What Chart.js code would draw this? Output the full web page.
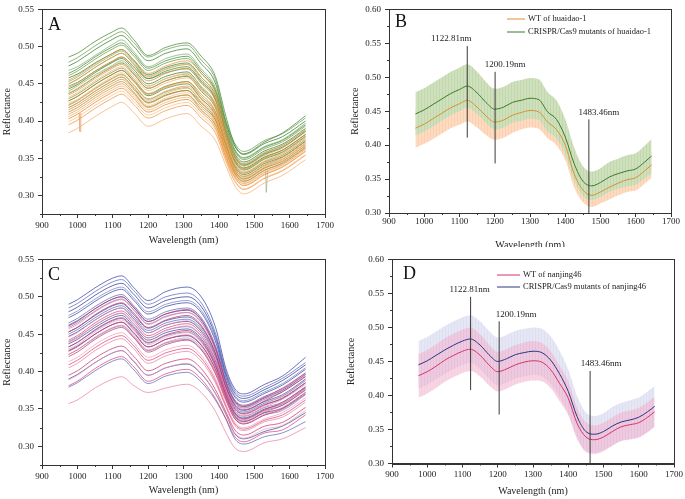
<!DOCTYPE html>
<html lang="en">
<head>
<meta charset="UTF-8">
<title>Reflectance spectra</title>
<script src="https://cdn.jsdelivr.net/npm/chart.js"></script>
<style>
  body { margin: 0; background: #fff; width: 685px; height: 499px; position: relative; overflow: hidden; }
  canvas { position: absolute; display: block; }
</style>
</head>
<body>

<canvas id="chartA" width="340" height="250" style="left:0;top:0"></canvas>
<canvas id="chartB" width="345" height="247" style="left:340px;top:0"></canvas>
<canvas id="chartC" width="340" height="249" style="left:0;top:250px"></canvas>
<canvas id="chartD" width="345" height="249" style="left:340px;top:250px"></canvas>

<script>
// ---- data ----

// single spectra (panels A and C), wavelengths in nm
const wlCurves = [975, 1000, 1050, 1100, 1125, 1160, 1200, 1250, 1310, 1350, 1390, 1420, 1445, 1470, 1530, 1580, 1645];

const mutHuaidaoCurves = [
    [0.486, 0.491, 0.507, 0.520, 0.525, 0.509, 0.488, 0.499, 0.505, 0.487, 0.460, 0.406, 0.368, 0.356, 0.372, 0.384, 0.407],
    [0.479, 0.485, 0.501, 0.515, 0.520, 0.505, 0.486, 0.496, 0.502, 0.482, 0.456, 0.400, 0.370, 0.359, 0.374, 0.383, 0.404],
    [0.474, 0.480, 0.496, 0.510, 0.515, 0.500, 0.481, 0.491, 0.497, 0.477, 0.451, 0.398, 0.366, 0.355, 0.370, 0.379, 0.400],
    [0.468, 0.473, 0.488, 0.503, 0.509, 0.493, 0.473, 0.484, 0.490, 0.470, 0.445, 0.396, 0.362, 0.351, 0.366, 0.375, 0.397],
    [0.464, 0.470, 0.486, 0.500, 0.505, 0.490, 0.471, 0.481, 0.487, 0.467, 0.442, 0.393, 0.361, 0.350, 0.365, 0.374, 0.395],
    [0.461, 0.467, 0.483, 0.497, 0.502, 0.487, 0.468, 0.478, 0.484, 0.464, 0.440, 0.389, 0.359, 0.348, 0.363, 0.372, 0.393],
    [0.458, 0.463, 0.478, 0.491, 0.496, 0.481, 0.462, 0.472, 0.478, 0.459, 0.435, 0.387, 0.356, 0.345, 0.360, 0.369, 0.390],
    [0.453, 0.459, 0.475, 0.489, 0.494, 0.479, 0.460, 0.470, 0.476, 0.456, 0.432, 0.384, 0.354, 0.343, 0.358, 0.367, 0.388],
    [0.450, 0.456, 0.472, 0.486, 0.491, 0.476, 0.457, 0.467, 0.473, 0.453, 0.430, 0.382, 0.352, 0.341, 0.356, 0.365, 0.386],
    [0.447, 0.452, 0.467, 0.480, 0.486, 0.473, 0.457, 0.465, 0.470, 0.451, 0.428, 0.381, 0.351, 0.340, 0.355, 0.364, 0.386],
    [0.443, 0.449, 0.465, 0.479, 0.484, 0.469, 0.450, 0.460, 0.466, 0.446, 0.423, 0.378, 0.348, 0.337, 0.352, 0.361, 0.382],
    [0.440, 0.447, 0.462, 0.475, 0.481, 0.466, 0.447, 0.457, 0.463, 0.443, 0.421, 0.376, 0.346, 0.335, 0.350, 0.359, 0.380],
    [0.437, 0.443, 0.459, 0.473, 0.478, 0.463, 0.444, 0.454, 0.460, 0.440, 0.418, 0.375, 0.345, 0.334, 0.349, 0.358, 0.379],
    [0.430, 0.436, 0.452, 0.466, 0.471, 0.456, 0.437, 0.447, 0.453, 0.433, 0.412, 0.371, 0.341, 0.330, 0.345, 0.354, 0.375],
    [0.427, 0.433, 0.449, 0.463, 0.468, 0.453, 0.434, 0.444, 0.450, 0.430, 0.409, 0.369, 0.339, 0.328, 0.343, 0.352, 0.373],
    [0.422, 0.428, 0.444, 0.458, 0.463, 0.448, 0.429, 0.439, 0.445, 0.425, 0.404, 0.366, 0.336, 0.325, 0.340, 0.349, 0.370],
    [0.418, 0.424, 0.440, 0.454, 0.459, 0.444, 0.425, 0.435, 0.441, 0.421, 0.401, 0.363, 0.333, 0.322, 0.337, 0.346, 0.367],
    [0.412, 0.418, 0.434, 0.448, 0.453, 0.438, 0.419, 0.429, 0.435, 0.415, 0.395, 0.360, 0.330, 0.319, 0.334, 0.343, 0.364]
];

const wtHuaidaoCurves = [
    [0.455, 0.461, 0.477, 0.491, 0.496, 0.482, 0.464, 0.474, 0.481, 0.464, 0.438, 0.387, 0.353, 0.342, 0.357, 0.367, 0.388],
    [0.450, 0.456, 0.472, 0.486, 0.491, 0.477, 0.459, 0.469, 0.476, 0.459, 0.433, 0.379, 0.350, 0.339, 0.354, 0.364, 0.385],
    [0.445, 0.451, 0.467, 0.481, 0.486, 0.472, 0.454, 0.464, 0.471, 0.454, 0.429, 0.380, 0.347, 0.336, 0.351, 0.361, 0.382],
    [0.438, 0.444, 0.460, 0.474, 0.479, 0.465, 0.447, 0.457, 0.464, 0.447, 0.423, 0.375, 0.343, 0.332, 0.347, 0.357, 0.378],
    [0.435, 0.441, 0.457, 0.471, 0.476, 0.462, 0.444, 0.454, 0.461, 0.444, 0.420, 0.371, 0.342, 0.331, 0.346, 0.356, 0.377],
    [0.432, 0.438, 0.454, 0.468, 0.473, 0.459, 0.441, 0.451, 0.458, 0.441, 0.417, 0.370, 0.340, 0.329, 0.344, 0.354, 0.375],
    [0.427, 0.433, 0.449, 0.463, 0.468, 0.454, 0.436, 0.446, 0.453, 0.436, 0.413, 0.367, 0.337, 0.326, 0.341, 0.351, 0.372],
    [0.424, 0.429, 0.445, 0.460, 0.465, 0.452, 0.436, 0.445, 0.451, 0.433, 0.410, 0.364, 0.335, 0.324, 0.339, 0.349, 0.370],
    [0.421, 0.427, 0.443, 0.457, 0.462, 0.448, 0.430, 0.440, 0.447, 0.430, 0.407, 0.363, 0.334, 0.323, 0.338, 0.348, 0.369],
    [0.418, 0.424, 0.440, 0.454, 0.459, 0.445, 0.427, 0.437, 0.444, 0.427, 0.405, 0.361, 0.332, 0.321, 0.336, 0.346, 0.367],
    [0.415, 0.421, 0.437, 0.451, 0.456, 0.442, 0.424, 0.434, 0.441, 0.424, 0.402, 0.359, 0.330, 0.319, 0.334, 0.344, 0.365],
    [0.412, 0.418, 0.434, 0.448, 0.453, 0.439, 0.421, 0.431, 0.438, 0.421, 0.399, 0.357, 0.328, 0.317, 0.332, 0.342, 0.363],
    [0.409, 0.415, 0.431, 0.445, 0.450, 0.436, 0.418, 0.428, 0.435, 0.418, 0.397, 0.355, 0.327, 0.316, 0.331, 0.341, 0.362],
    [0.406, 0.412, 0.428, 0.442, 0.447, 0.433, 0.415, 0.425, 0.432, 0.415, 0.394, 0.354, 0.325, 0.314, 0.329, 0.339, 0.360],
    [0.403, 0.409, 0.425, 0.439, 0.444, 0.430, 0.412, 0.422, 0.429, 0.412, 0.391, 0.351, 0.324, 0.313, 0.328, 0.338, 0.359],
    [0.399, 0.405, 0.421, 0.435, 0.440, 0.426, 0.408, 0.418, 0.425, 0.408, 0.388, 0.349, 0.320, 0.309, 0.324, 0.334, 0.355],
    [0.395, 0.401, 0.417, 0.431, 0.436, 0.422, 0.404, 0.414, 0.421, 0.404, 0.384, 0.346, 0.319, 0.308, 0.323, 0.333, 0.354],
    [0.384, 0.390, 0.406, 0.420, 0.425, 0.411, 0.393, 0.403, 0.410, 0.393, 0.374, 0.340, 0.313, 0.302, 0.317, 0.327, 0.348]
];

// two noise spikes visible in panel A
const spikeWtX = [1005, 1007, 1008, 1010];
const spikeWtY = [0.410, 0.386, 0.386, 0.411];
const spikeMutX = [1532, 1534, 1536, 1538];
const spikeMutY = [0.333, 0.304, 0.304, 0.334];

const mutNanjingCurves = [
    [0.490, 0.496, 0.512, 0.525, 0.528, 0.512, 0.495, 0.507, 0.513, 0.500, 0.460, 0.404, 0.377, 0.370, 0.383, 0.394, 0.419],
    [0.485, 0.491, 0.507, 0.520, 0.523, 0.508, 0.490, 0.500, 0.505, 0.492, 0.452, 0.400, 0.374, 0.367, 0.379, 0.391, 0.412],
    [0.480, 0.486, 0.502, 0.515, 0.518, 0.503, 0.485, 0.495, 0.500, 0.487, 0.448, 0.397, 0.371, 0.364, 0.376, 0.388, 0.409],
    [0.475, 0.481, 0.497, 0.510, 0.513, 0.498, 0.480, 0.490, 0.495, 0.482, 0.444, 0.394, 0.368, 0.361, 0.373, 0.384, 0.405],
    [0.472, 0.478, 0.494, 0.507, 0.510, 0.495, 0.477, 0.487, 0.492, 0.479, 0.441, 0.392, 0.366, 0.359, 0.371, 0.382, 0.403],
    [0.465, 0.471, 0.487, 0.500, 0.503, 0.488, 0.470, 0.480, 0.485, 0.472, 0.435, 0.388, 0.362, 0.355, 0.367, 0.377, 0.398],
    [0.462, 0.468, 0.484, 0.497, 0.500, 0.485, 0.467, 0.477, 0.482, 0.469, 0.432, 0.386, 0.360, 0.353, 0.365, 0.375, 0.396],
    [0.459, 0.465, 0.481, 0.494, 0.497, 0.482, 0.464, 0.474, 0.479, 0.466, 0.430, 0.384, 0.358, 0.351, 0.363, 0.373, 0.394],
    [0.453, 0.459, 0.475, 0.488, 0.491, 0.476, 0.458, 0.468, 0.473, 0.460, 0.425, 0.381, 0.355, 0.348, 0.360, 0.369, 0.390],
    [0.450, 0.456, 0.472, 0.485, 0.488, 0.473, 0.455, 0.465, 0.470, 0.457, 0.422, 0.379, 0.353, 0.346, 0.358, 0.367, 0.388],
    [0.447, 0.453, 0.469, 0.482, 0.485, 0.470, 0.452, 0.462, 0.467, 0.454, 0.420, 0.377, 0.351, 0.344, 0.356, 0.364, 0.385],
    [0.440, 0.446, 0.462, 0.475, 0.478, 0.463, 0.445, 0.455, 0.460, 0.447, 0.414, 0.373, 0.347, 0.340, 0.352, 0.359, 0.380],
    [0.437, 0.443, 0.459, 0.472, 0.475, 0.460, 0.442, 0.452, 0.457, 0.444, 0.411, 0.371, 0.345, 0.338, 0.350, 0.357, 0.378],
    [0.433, 0.439, 0.455, 0.468, 0.471, 0.456, 0.438, 0.448, 0.453, 0.440, 0.408, 0.369, 0.343, 0.336, 0.348, 0.355, 0.376],
    [0.428, 0.434, 0.450, 0.463, 0.466, 0.451, 0.433, 0.443, 0.448, 0.435, 0.404, 0.366, 0.340, 0.333, 0.345, 0.351, 0.372],
    [0.423, 0.429, 0.445, 0.458, 0.461, 0.446, 0.428, 0.438, 0.443, 0.430, 0.399, 0.363, 0.337, 0.330, 0.342, 0.348, 0.369],
    [0.390, 0.396, 0.412, 0.425, 0.428, 0.413, 0.395, 0.405, 0.410, 0.397, 0.371, 0.343, 0.317, 0.310, 0.320, 0.327, 0.345],
    [0.379, 0.385, 0.401, 0.414, 0.417, 0.402, 0.384, 0.394, 0.399, 0.386, 0.362, 0.336, 0.310, 0.303, 0.313, 0.318, 0.333]
];

const wtNanjingCurves = [
    [0.461, 0.467, 0.484, 0.497, 0.500, 0.486, 0.467, 0.477, 0.483, 0.470, 0.432, 0.385, 0.361, 0.354, 0.366, 0.378, 0.398],
    [0.457, 0.463, 0.480, 0.493, 0.496, 0.482, 0.463, 0.473, 0.479, 0.466, 0.429, 0.383, 0.359, 0.352, 0.364, 0.376, 0.396],
    [0.453, 0.459, 0.476, 0.489, 0.492, 0.478, 0.459, 0.469, 0.475, 0.462, 0.425, 0.380, 0.356, 0.349, 0.361, 0.373, 0.393],
    [0.446, 0.452, 0.469, 0.482, 0.485, 0.471, 0.452, 0.462, 0.468, 0.455, 0.419, 0.376, 0.352, 0.345, 0.357, 0.368, 0.388],
    [0.442, 0.448, 0.465, 0.478, 0.481, 0.467, 0.448, 0.458, 0.464, 0.451, 0.416, 0.374, 0.350, 0.343, 0.355, 0.365, 0.385],
    [0.439, 0.445, 0.462, 0.475, 0.478, 0.464, 0.445, 0.455, 0.461, 0.448, 0.413, 0.372, 0.348, 0.341, 0.353, 0.363, 0.383],
    [0.433, 0.439, 0.456, 0.469, 0.472, 0.458, 0.439, 0.449, 0.455, 0.442, 0.408, 0.368, 0.344, 0.337, 0.349, 0.359, 0.379],
    [0.430, 0.436, 0.453, 0.466, 0.469, 0.455, 0.436, 0.446, 0.452, 0.439, 0.406, 0.367, 0.343, 0.336, 0.348, 0.357, 0.377],
    [0.427, 0.433, 0.450, 0.463, 0.466, 0.452, 0.433, 0.443, 0.449, 0.436, 0.403, 0.365, 0.341, 0.334, 0.346, 0.355, 0.375],
    [0.423, 0.429, 0.446, 0.459, 0.462, 0.448, 0.429, 0.439, 0.445, 0.432, 0.400, 0.362, 0.338, 0.331, 0.343, 0.352, 0.372],
    [0.420, 0.426, 0.443, 0.456, 0.459, 0.445, 0.426, 0.436, 0.442, 0.429, 0.397, 0.361, 0.337, 0.330, 0.342, 0.350, 0.370],
    [0.413, 0.419, 0.436, 0.449, 0.452, 0.438, 0.419, 0.429, 0.435, 0.422, 0.391, 0.356, 0.332, 0.325, 0.337, 0.345, 0.365],
    [0.409, 0.415, 0.432, 0.445, 0.448, 0.434, 0.415, 0.425, 0.431, 0.418, 0.388, 0.354, 0.330, 0.323, 0.335, 0.342, 0.362],
    [0.405, 0.411, 0.428, 0.441, 0.444, 0.430, 0.411, 0.421, 0.427, 0.414, 0.385, 0.352, 0.328, 0.321, 0.333, 0.339, 0.359],
    [0.395, 0.401, 0.418, 0.431, 0.434, 0.420, 0.401, 0.411, 0.417, 0.404, 0.376, 0.346, 0.322, 0.315, 0.327, 0.332, 0.352],
    [0.389, 0.395, 0.412, 0.425, 0.428, 0.414, 0.395, 0.405, 0.411, 0.398, 0.371, 0.342, 0.318, 0.311, 0.323, 0.328, 0.348],
    [0.381, 0.387, 0.404, 0.417, 0.420, 0.406, 0.387, 0.397, 0.403, 0.390, 0.364, 0.337, 0.313, 0.306, 0.318, 0.322, 0.342],
    [0.357, 0.362, 0.378, 0.390, 0.393, 0.381, 0.372, 0.378, 0.383, 0.372, 0.347, 0.318, 0.298, 0.293, 0.305, 0.310, 0.325]
];

// mean spectra and standard deviations (panels B and D)
const wlMean = [975, 1000, 1025, 1050, 1075, 1100, 1122, 1150, 1175, 1200, 1225, 1250, 1275, 1300,
                1325, 1350, 1375, 1400, 1425, 1450, 1475, 1500, 1525, 1550, 1575, 1600, 1625, 1645];

const mutHuaidaoMean = [0.446, 0.452, 0.460, 0.468, 0.476, 0.482, 0.487, 0.477, 0.463, 0.453, 0.456, 0.463, 0.466, 0.469,
                        0.467, 0.449, 0.438, 0.412, 0.373, 0.347, 0.340, 0.345, 0.353, 0.358, 0.362, 0.365, 0.375, 0.384];
const mutHuaidaoSd = [0.032, 0.032, 0.032, 0.032, 0.032, 0.032, 0.032, 0.031, 0.030, 0.030, 0.030, 0.030, 0.030, 0.030,
                      0.030, 0.029, 0.028, 0.026, 0.024, 0.022, 0.021, 0.021, 0.022, 0.022, 0.023, 0.023, 0.024, 0.025];
const wtHuaidaoMean = [0.425, 0.431, 0.439, 0.447, 0.455, 0.461, 0.466, 0.456, 0.443, 0.434, 0.437, 0.444, 0.448, 0.451,
                       0.449, 0.434, 0.423, 0.400, 0.358, 0.334, 0.326, 0.331, 0.338, 0.344, 0.349, 0.352, 0.362, 0.371];
const wtHuaidaoSd = [0.029, 0.029, 0.030, 0.030, 0.030, 0.031, 0.031, 0.030, 0.028, 0.026, 0.026, 0.026, 0.025, 0.025,
                     0.025, 0.024, 0.023, 0.022, 0.020, 0.018, 0.017, 0.017, 0.018, 0.018, 0.018, 0.019, 0.019, 0.019];

const mutNanjingMean = [0.445, 0.451, 0.459, 0.467, 0.474, 0.480, 0.483, 0.474, 0.460, 0.450, 0.454, 0.460, 0.463, 0.465,
                        0.463, 0.452, 0.432, 0.406, 0.369, 0.347, 0.343, 0.347, 0.355, 0.361, 0.364, 0.368, 0.376, 0.384];
const mutNanjingSd = [0.035, 0.035, 0.035, 0.035, 0.035, 0.035, 0.035, 0.035, 0.035, 0.035, 0.035, 0.035, 0.035, 0.035,
                      0.035, 0.035, 0.034, 0.032, 0.030, 0.028, 0.027, 0.027, 0.028, 0.028, 0.029, 0.029, 0.030, 0.030];
const wtNanjingMean = [0.429, 0.435, 0.443, 0.452, 0.459, 0.465, 0.468, 0.459, 0.445, 0.435, 0.439, 0.445, 0.449, 0.451,
                       0.449, 0.438, 0.418, 0.396, 0.359, 0.339, 0.335, 0.339, 0.347, 0.354, 0.357, 0.360, 0.368, 0.376];
const wtNanjingSd = [0.032, 0.032, 0.032, 0.032, 0.032, 0.032, 0.032, 0.031, 0.030, 0.029, 0.029, 0.029, 0.029, 0.029,
                     0.028, 0.027, 0.026, 0.025, 0.023, 0.022, 0.021, 0.021, 0.021, 0.021, 0.021, 0.022, 0.022, 0.022];

// marked wavelengths
const markerLabels = ['1122.81nm', '1200.19nm', '1483.46nm'];
const markerWlB = [1122, 1201, 1467];
const markerTopB = [0.546, 0.508, 0.438];
const markerBottomB = [0.411, 0.373, 0.300];
const markerWlD = [1123, 1204, 1462];
const markerTopD = [0.545, 0.509, 0.436];
const markerBottomD = [0.408, 0.372, 0.300];

// ---- drawing ----

Chart.defaults.font.family = "'Liberation Serif', 'Times New Roman', serif";
Chart.defaults.color = '#222';
Chart.defaults.animation = false;

function isMult(v, step) {
    return Math.abs(Math.round(v / step) * step - v) < 1e-6;
}

function xy(xs, ys) {
    return ys.map((v, i) => ({ x: xs[i], y: v }));
}

function band(mean, sd, sign) {
    return mean.map((v, i) => ({ x: wlMean[i], y: v + sign * sd[i] }));
}

// light vertical hatching like the error bars of the original
function stripes(base, line) {
    const c = document.createElement('canvas');
    c.width = 3;
    c.height = 4;
    const g = c.getContext('2d');
    g.fillStyle = base;
    g.fillRect(1, 0, 2, 4);
    g.fillStyle = line;
    g.fillRect(0, 0, 1, 4);
    return g.createPattern(c, 'repeat');
}

// frame, minor ticks, panel letter, legend and marker labels
const framePlugin = {
    id: 'frame',
    afterDraw(chart, args, opts) {
        const { ctx, chartArea: a } = chart;
        const x = chart.scales.x, y = chart.scales.y;
        ctx.save();
        ctx.strokeStyle = '#333';
        ctx.lineWidth = 1;
        ctx.strokeRect(Math.round(a.left) + 0.5, Math.round(a.top) + 0.5,
            Math.round(a.right) - Math.round(a.left), Math.round(a.bottom) - Math.round(a.top));
        ctx.beginPath();
        x.ticks.forEach(t => {
            if (!isMult(t.value, 100)) {
                const px = Math.round(x.getPixelForValue(t.value)) + 0.5;
                ctx.moveTo(px, a.bottom);
                ctx.lineTo(px, a.bottom + 2);
            }
        });
        y.ticks.forEach(t => {
            if (!isMult(t.value, 0.05)) {
                const py = Math.round(y.getPixelForValue(t.value)) + 0.5;
                ctx.moveTo(a.left, py);
                ctx.lineTo(a.left - 2, py);
            }
        });
        ctx.stroke();

        ctx.fillStyle = '#111';
        ctx.font = "18px 'Liberation Serif'";
        ctx.textAlign = 'left';
        ctx.textBaseline = 'alphabetic';
        ctx.fillText(opts.letter, opts.letterX, opts.letterY);

        if (opts.legend) {
            const lg = opts.legend;
            ctx.font = "8.5px 'Liberation Serif'";
            ctx.textBaseline = 'middle';
            lg.items.forEach(it => {
                ctx.strokeStyle = it.color;
                ctx.lineWidth = 1;
                ctx.beginPath();
                ctx.moveTo(lg.x0, it.y);
                ctx.lineTo(lg.x1, it.y);
                ctx.stroke();
                ctx.fillStyle = '#222';
                ctx.fillText(it.text, lg.tx, it.y);
            });
        }

        if (opts.markers) {
            ctx.font = "9px 'Liberation Serif'";
            ctx.textAlign = 'center';
            ctx.textBaseline = 'middle';
            ctx.fillStyle = '#222';
            opts.markers.wl.forEach((wl, i) => {
                const px = x.getPixelForValue(wl) + opts.markers.dx[i];
                const py = y.getPixelForValue(opts.markers.top[i]) - 7;
                ctx.fillText(markerLabels[i], px, py);
            });
        }
        ctx.restore();
    }
};

function scalesFor(p) {
    return {
        x: {
            type: 'linear', min: 900, max: 1700,
            afterFit: s => { s.height = p.xHeight; },
            ticks: {
                stepSize: 50, autoSkip: false, maxRotation: 0, padding: p.xTickPad,
                font: { size: 9 }, color: '#222',
                callback: v => isMult(v, 100) ? String(Math.round(v)) : ''
            },
            grid: {
                drawOnChartArea: false, tickLength: 4,
                tickColor: c => (c.tick && isMult(c.tick.value, 100)) ? '#333' : 'rgba(0,0,0,0)'
            },
            border: { color: '#333' },
            title: {
                display: true, text: 'Wavelength (nm)', font: { size: 10 }, color: '#222',
                padding: { top: 0, bottom: p.xTitlePad }
            }
        },
        y: {
            type: 'linear', min: p.yMin, max: p.yMax,
            afterFit: s => { s.width = p.yWidth; },
            ticks: {
                stepSize: 0.025, autoSkip: false, padding: 4,
                font: { size: 9 }, color: '#222',
                callback: v => isMult(v, 0.05) ? v.toFixed(2) : ''
            },
            grid: {
                drawOnChartArea: false, tickLength: 4,
                tickColor: c => (c.tick && isMult(c.tick.value, 0.05)) ? '#333' : 'rgba(0,0,0,0)'
            },
            border: { color: '#333' },
            title: {
                display: true, text: 'Reflectance', font: { size: 10 }, color: '#222',
                padding: { top: p.yTitlePad, bottom: 0 }
            }
        }
    };
}

function lineSet(data, color, width) {
    return {
        data: data, borderColor: color, borderWidth: width, pointRadius: 0,
        fill: false, cubicInterpolationMode: 'monotone'
    };
}

function baseOptions(p, pluginOpts) {
    return {
        responsive: false,
        layout: { padding: p.padding },
        scales: scalesFor(p),
        plugins: { legend: { display: false }, tooltip: { enabled: false }, frame: pluginOpts },
        elements: { line: { borderJoinStyle: 'round' } }
    };
}

// panels A and C: every spectrum as its own line
function spectraChart(id, mutCurves, wtCurves, mutColors, wtColors, extra, p, pluginOpts) {
    const datasets = [];
    for (let i = 0; i < mutCurves.length; i++) {
        datasets.push(lineSet(xy(wlCurves, mutCurves[i]), mutColors[i % mutColors.length], 0.7));
        datasets.push(lineSet(xy(wlCurves, wtCurves[i]), wtColors[i % wtColors.length], 0.7));
    }
    extra.forEach(d => datasets.push(d));
    return new Chart(document.getElementById(id), {
        type: 'line',
        data: { datasets: datasets },
        options: baseOptions(p, pluginOpts),
        plugins: [framePlugin]
    });
}

// panels B and D: means with hatched sd bands and marker lines
function meanChart(id, g, p, pluginOpts) {
    const datasets = [];
    g.markerWl.forEach((wl, i) => {
        datasets.push({
            data: [{ x: wl, y: g.markerBottom[i] }, { x: wl, y: g.markerTop[i] }],
            borderColor: '#3a3a3a', borderWidth: 1, pointRadius: 0, fill: false, tension: 0
        });
    });
    datasets.push(lineSet(xy(wlMean, g.mutMean), g.mutLine, 1));
    datasets.push(lineSet(xy(wlMean, g.wtMean), g.wtLine, 1));
    const bands = [[g.topMean, g.topSd, g.topFill], [g.botMean, g.botSd, g.botFill]];
    bands.forEach(b => {
        datasets.push({
            data: band(b[0], b[1], 1), borderWidth: 0, borderColor: 'rgba(0,0,0,0)', pointRadius: 0,
            cubicInterpolationMode: 'monotone', fill: '+1', backgroundColor: b[2]
        });
        datasets.push({
            data: band(b[0], b[1], -1), borderWidth: 0, borderColor: 'rgba(0,0,0,0)', pointRadius: 0,
            cubicInterpolationMode: 'monotone', fill: false
        });
    });
    return new Chart(document.getElementById(id), {
        type: 'line',
        data: { datasets: datasets },
        options: baseOptions(p, pluginOpts),
        plugins: [framePlugin]
    });
}

const greens = ['#3b8028', '#5b9a40', '#2f7220', '#77ad5c'];
const oranges = ['#ee8c30', '#f5aa60', '#e27c1e', '#f7bb7c'];
const blues = ['#2b3a9e', '#5560bb', '#1f2b88', '#7078c8'];
const reds = ['#d83a6e', '#ea7a9f', '#c42a5c', '#f29ab4'];

spectraChart('chartA', mutHuaidaoCurves, wtHuaidaoCurves, greens, oranges,
    [
        Object.assign(lineSet(xy(spikeWtX, spikeWtY), '#eca061', 0.6), { cubicInterpolationMode: 'default', tension: 0 }),
        Object.assign(lineSet(xy(spikeMutX, spikeMutY), '#8aa684', 0.6), { cubicInterpolationMode: 'default', tension: 0 })
    ],
    { padding: { left: 0, top: 6, right: 15, bottom: 0 }, yWidth: 42, xHeight: 36, xTickPad: 2,
      xTitlePad: 4, yTitlePad: 1, yMin: 0.275, yMax: 0.55 },
    { letter: 'A', letterX: 48, letterY: 30 });

spectraChart('chartC', mutNanjingCurves, wtNanjingCurves, blues, reds, [],
    { padding: { left: 0, top: 6, right: 15, bottom: 0 }, yWidth: 42, xHeight: 34, xTickPad: 2,
      xTitlePad: 3, yTitlePad: 1, yMin: 0.275, yMax: 0.55 },
    { letter: 'C', letterX: 48, letterY: 30 });

meanChart('chartB', {
        markerWl: markerWlB, markerTop: markerTopB, markerBottom: markerBottomB,
        mutMean: mutHuaidaoMean, wtMean: wtHuaidaoMean, mutLine: '#3d7a2a', wtLine: '#d8922e',
        topMean: mutHuaidaoMean, topSd: mutHuaidaoSd, topFill: stripes('#cfe0bd', '#c2d7ae'),
        botMean: wtHuaidaoMean, botSd: wtHuaidaoSd, botFill: stripes('#fddac0', '#fad0b0')
    },
    { padding: { left: 0, top: 5, right: 14, bottom: 0 }, yWidth: 49, xHeight: 34, xTickPad: -1,
      xTitlePad: -4, yTitlePad: 9, yMin: 0.30, yMax: 0.60 },
    { letter: 'B', letterX: 55, letterY: 27,
      legend: { x0: 167, x1: 185, tx: 188, items: [
          { text: 'WT of huaidao-1', color: '#d8922e', y: 19 },
          { text: 'CRISPR/Cas9 mutants of huaidao-1', color: '#3d7a2a', y: 32 }] },
      markers: { wl: markerWlB, top: markerTopB, dx: [-16, 10, 10] } });

meanChart('chartD', {
        markerWl: markerWlD, markerTop: markerTopD, markerBottom: markerBottomD,
        mutMean: mutNanjingMean, wtMean: wtNanjingMean, mutLine: '#2e3585', wtLine: '#d8336d',
        topMean: wtNanjingMean, topSd: wtNanjingSd, topFill: stripes('rgba(243,178,204,0.55)', 'rgba(238,166,196,0.55)'),
        botMean: mutNanjingMean, botSd: mutNanjingSd, botFill: stripes('#e6e7f5', '#dedff1')
    },
    { padding: { left: 0, top: 5, right: 11, bottom: 0 }, yWidth: 52, xHeight: 35.5, xTickPad: 2,
      xTitlePad: 1.3, yTitlePad: 5.7, yMin: 0.30, yMax: 0.60 },
    { letter: 'D', letterX: 63, letterY: 29,
      legend: { x0: 157, x1: 180, tx: 183, items: [
          { text: 'WT of nanjing46', color: '#d8336d', y: 25 },
          { text: 'CRISPR/Cas9 mutants of nanjing46', color: '#2e3585', y: 37 }] },
      markers: { wl: markerWlD, top: markerTopD, dx: [-1, 17, 11] } });
</script>

</body>
</html>
